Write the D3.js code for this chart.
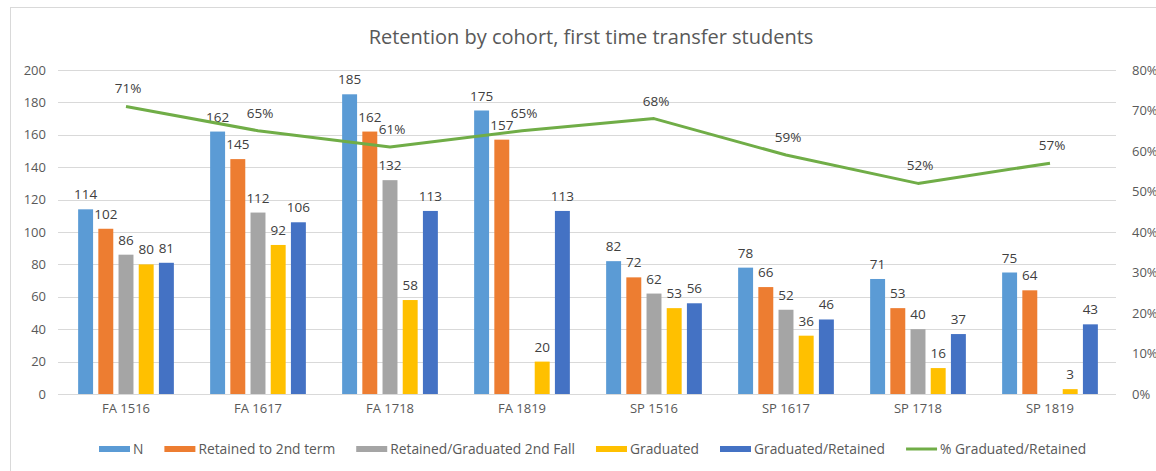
<!DOCTYPE html>
<html>
<head>
<meta charset="utf-8">
<script src="https://cdn.jsdelivr.net/npm/d3@7"></script>
<style>
  body { margin: 0; background: #fff; }
  svg { display: block; font-family: "Open Sans", "Noto Sans", sans-serif; }
</style>
</head>
<body>
<svg id="chart" width="1156" height="471"></svg>
<script>
// chart values
const cohorts = ["FA 1516", "FA 1617", "FA 1718", "FA 1819", "SP 1516", "SP 1617", "SP 1718", "SP 1819"];
const seriesNames = ["N", "Retained to 2nd term", "Retained/Graduated 2nd Fall", "Graduated", "Graduated/Retained"];
const nStudents = [114, 162, 185, 175, 82, 78, 71, 75];
const retained2ndTerm = [102, 145, 162, 157, 72, 66, 53, 64];
const retainedGrad2ndFall = [86, 112, 132, null, 62, 52, 40, null];
const graduated = [80, 92, 58, 20, 53, 36, 16, 3];
const gradRetained = [81, 106, 113, 113, 56, 46, 37, 43];
const pctGradRetained = [0.71, 0.65, 0.61, 0.65, 0.68, 0.59, 0.52, 0.57];
const lineName = "% Graduated/Retained";
const leftTicks = [0, 20, 40, 60, 80, 100, 120, 140, 160, 180, 200];
const rightTicks = [0, 0.1, 0.2, 0.3, 0.4, 0.5, 0.6, 0.7, 0.8];

const barColors = ["#5B9BD5", "#ED7D31", "#A5A5A5", "#FFC000", "#4472C4"];
const lineColor = "#70AD47";
const allSeries = [nStudents, retained2ndTerm, retainedGrad2ndFall, graduated, gradRetained];

const svg = d3.select("#chart");

// outer chart frame
svg.append("rect")
  .attr("x", 10.5).attr("y", 7.5)
  .attr("width", 1170).attr("height", 480)
  .attr("fill", "none")
  .attr("stroke", "#d9d9d9");

svg.append("text")
  .attr("x", 591).attr("y", 44)
  .attr("text-anchor", "middle")
  .attr("font-size", "20px")
  .attr("fill", "#595959")
  .text("Retention by cohort, first time transfer students");

const plot = {left: 60, right: 1116, top: 70, bottom: 394};

const x0 = d3.scaleBand()
  .domain(cohorts)
  .range([plot.left, plot.right])
  .paddingInner(0.235)
  .paddingOuter(0.1175);

const x1 = d3.scaleBand()
  .domain(d3.range(seriesNames.length))
  .range([0, x0.bandwidth()])
  .paddingInner(0.26)
  .paddingOuter(0.13);

const yLeft = d3.scaleLinear().domain([0, 200]).range([plot.bottom, plot.top]);
const yRight = d3.scaleLinear().domain([0, 0.8]).range([plot.bottom, plot.top]);

// gridlines
svg.append("g")
  .selectAll("line")
  .data(leftTicks)
  .join("line")
  .attr("x1", plot.left - 2).attr("x2", plot.right)
  .attr("y1", d => Math.round(yLeft(d)) + 0.5)
  .attr("y2", d => Math.round(yLeft(d)) + 0.5)
  .attr("stroke", "#d9d9d9")
  .attr("stroke-width", 1);

// left axis
const leftAxis = svg.append("g")
  .attr("transform", `translate(${plot.left - 14},0)`)
  .call(d3.axisLeft(yLeft).tickValues(leftTicks).tickSize(0).tickPadding(0));
leftAxis.select(".domain").remove();
leftAxis.selectAll("text")
  .attr("font-size", "13px")
  .attr("fill", "#595959")
  .attr("font-family", "Open Sans, sans-serif");

// right axis
const rightAxis = svg.append("g")
  .attr("transform", `translate(${plot.right + 16},0)`)
  .call(d3.axisRight(yRight).tickValues(rightTicks).tickFormat(d3.format(".0%")).tickSize(0).tickPadding(0));
rightAxis.select(".domain").remove();
rightAxis.selectAll("text")
  .attr("font-size", "13px")
  .attr("fill", "#595959")
  .attr("font-family", "Open Sans, sans-serif");

// category labels
const bottomAxis = svg.append("g")
  .attr("transform", `translate(0,${plot.bottom + 10})`)
  .call(d3.axisBottom(x0).tickSize(0).tickPadding(0));
bottomAxis.select(".domain").remove();
bottomAxis.selectAll("text")
  .attr("font-size", "13px")
  .attr("fill", "#595959")
  .attr("font-family", "Open Sans, sans-serif");

// bars
const groups = svg.append("g")
  .selectAll("g")
  .data(cohorts)
  .join("g")
  .attr("transform", d => `translate(${x0(d)},0)`);

const barData = (c, ci) => allSeries.map((s, si) => ({si: si, v: s[ci]})).filter(d => d.v != null);

groups.selectAll("rect")
  .data((c, ci) => barData(c, ci))
  .join("rect")
  .attr("x", d => x1(d.si))
  .attr("width", x1.bandwidth())
  .attr("y", d => yLeft(d.v))
  .attr("height", d => yLeft(0) - yLeft(d.v))
  .attr("fill", d => barColors[d.si]);

groups.selectAll("text")
  .data((c, ci) => barData(c, ci))
  .join("text")
  .attr("x", d => x1(d.si) + x1.bandwidth() / 2)
  .attr("y", d => yLeft(d.v) - 10)
  .attr("text-anchor", "middle")
  .attr("font-size", "13.5px")
  .attr("fill", "#404040")
  .text(d => d.v);

// percent line
const lineData = cohorts.map((c, i) => ({c: c, v: pctGradRetained[i]}));
const line = d3.line()
  .x(d => x0(d.c) + x0.bandwidth() / 2)
  .y(d => yRight(d.v));

svg.append("path")
  .datum(lineData)
  .attr("d", line)
  .attr("fill", "none")
  .attr("stroke", lineColor)
  .attr("stroke-width", 3)
  .attr("stroke-linejoin", "round");

svg.append("g")
  .selectAll("text")
  .data(lineData)
  .join("text")
  .attr("x", d => x0(d.c) + x0.bandwidth() / 2 + 2)
  .attr("y", d => yRight(d.v) - 13)
  .attr("text-anchor", "middle")
  .attr("font-size", "13.5px")
  .attr("fill", "#404040")
  .text(d => d3.format(".0%")(d.v));

// legend
const legendItems = seriesNames.map((n, i) => ({name: n, color: barColors[i], kind: "bar"}))
  .concat([{name: lineName, color: lineColor, kind: "line"}]);

const legend = svg.append("g").attr("transform", "translate(0,449)");
const swatchW = 31, gapAfterSwatch = 3, itemGap = 21;
let lx = 0;
legendItems.forEach(item => {
  const g = legend.append("g").attr("transform", `translate(${lx},0)`);
  if (item.kind === "bar") {
    g.append("rect").attr("x", 0).attr("y", -3).attr("width", swatchW).attr("height", 6).attr("fill", item.color);
  } else {
    g.append("line").attr("x1", 0).attr("x2", swatchW).attr("y1", 0).attr("y2", 0)
      .attr("stroke", item.color).attr("stroke-width", 3);
  }
  const t = g.append("text")
    .attr("x", swatchW + gapAfterSwatch)
    .attr("y", 5)
    .attr("font-size", "13.8px")
    .attr("fill", "#595959")
    .text(item.name);
  lx += swatchW + gapAfterSwatch + t.node().getComputedTextLength() + itemGap;
});
const legendW = lx - itemGap;
legend.attr("transform", `translate(${Math.round(593 - legendW / 2)},449)`);
</script>
</body>
</html>
